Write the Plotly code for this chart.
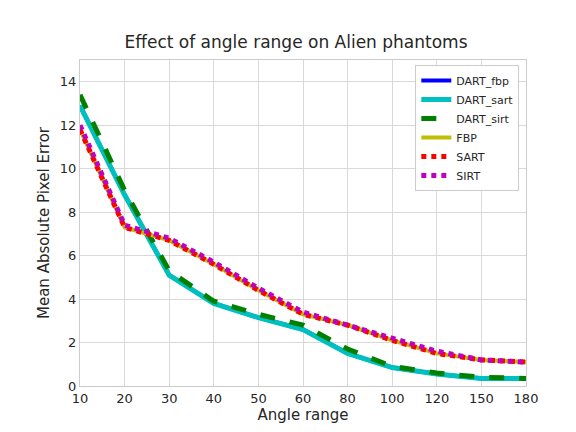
import plotly.graph_objects as go

angles = ["10", "20", "30", "40", "50", "60", "80", "100", "120", "150", "180"]
dart_sart = [12.9, 8.8, 5.1, 3.8, 3.15, 2.6, 1.5, 0.85, 0.55, 0.35, 0.35]
dart_fbp = dart_sart
dart_sirt = [13.4, 9.0, 5.3, 3.9, 3.3, 2.8, 1.7, 0.9, 0.6, 0.4, 0.35]
sart = [11.8, 7.3, 6.7, 5.6, 4.4, 3.3, 2.8, 2.1, 1.5, 1.2, 1.1]
fbp = sart
sirt = [12.0, 7.4, 6.8, 5.7, 4.5, 3.4, 2.8, 2.2, 1.6, 1.2, 1.1]

series = [
    ("DART_fbp", dart_fbp, "#0000ff", "solid", 4),
    ("DART_sart", dart_sart, "#00bfbf", "solid", 5),
    ("DART_sirt", dart_sirt, "#008000", "dash", 5),
    ("FBP", fbp, "#bfbf00", "solid", 4),
    ("SART", sart, "#ff0000", "dot", 5),
    ("SIRT", sirt, "#bf00bf", "dot", 5),
]

fig = go.Figure()
for name, vals, color, dash, w in series:
    fig.add_trace(go.Scatter(x=angles, y=vals, name=name, mode="lines",
                             line=dict(color=color, dash=dash, width=w)))

fig.update_layout(
    width=576, height=432,
    margin=dict(l=72, r=58, t=52, b=54, autoexpand=False),
    paper_bgcolor="white", plot_bgcolor="white",
    font=dict(family="DejaVu Sans", size=12, color="#262626"),
    title=dict(text="Effect of angle range on Alien phantoms", x=0.5, y=0.935,
               xanchor="center", font=dict(size=17)),
    xaxis=dict(title=dict(text="Angle range", font=dict(size=15), standoff=2),
               type="category", range=[0, 10], showgrid=True, gridcolor="#d9d9d9",
               showline=True, linecolor="#cccccc", mirror=True, ticks="",
               tickfont=dict(size=13), automargin=False),
    yaxis=dict(title=dict(text="Mean Absolute Pixel Error", font=dict(size=15), standoff=6),
               range=[0, 15], dtick=2, showgrid=True, gridcolor="#d9d9d9",
               showline=True, linecolor="#cccccc", mirror=True, zeroline=False,
               tickfont=dict(size=13), automargin=False),
    legend=dict(x=0.985, y=0.985, xanchor="right", yanchor="top",
                bgcolor="white", bordercolor="#cccccc", borderwidth=1,
                font=dict(size=11), tracegroupgap=0, itemwidth=30),
)

fig.write_html("out.html")
